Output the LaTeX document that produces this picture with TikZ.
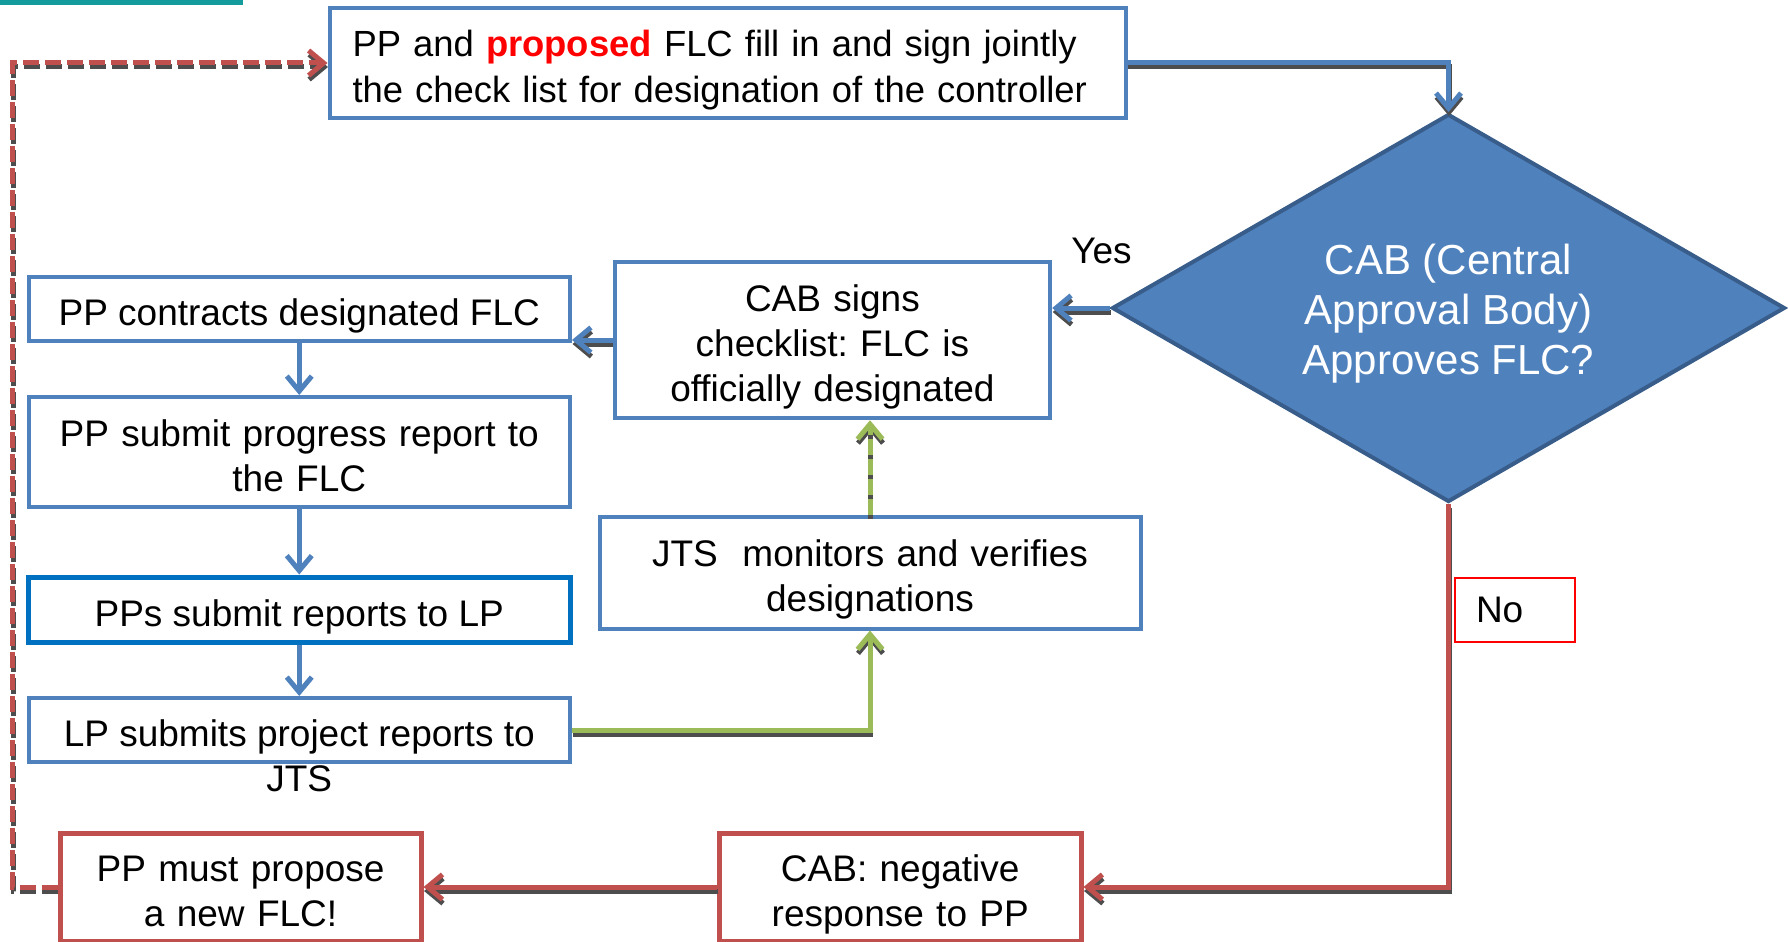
\documentclass[tikz,border=0pt]{standalone}
\usepackage{fontspec}
\setmainfont{Liberation Sans}
\frenchspacing
\usetikzlibrary{arrows.meta,shapes.geometric}
\definecolor{blueA}{HTML}{4F81BD}
\definecolor{blueD}{HTML}{385D8A}
\definecolor{blueP}{HTML}{0070C0}
\definecolor{redA}{HTML}{C0504D}
\definecolor{redT}{HTML}{FF0000}
\definecolor{greenA}{HTML}{9BBB59}
\definecolor{shadowC}{HTML}{4D4D4D}
\definecolor{tealA}{RGB}{20,155,155}
\newcommand\topstrutx{\rule{0pt}{41pt}}
\newcommand\botstrutx{\rule[-8pt]{0pt}{0pt}}
\tikzset{
  txt/.style={font=\fontsize{37}{45}\selectfont, align=center},
  strutted/.style={execute at begin node=\topstrutx, execute at end node=\botstrutx},
  bbox/.style={draw=blueA, line width=4pt, fill=white, inner sep=0pt, txt, strutted},
  pbox/.style={draw=blueP, line width=5pt, fill=white, inner sep=0pt, txt, strutted},
  rbox/.style={draw=redA, line width=5pt, fill=white, inner sep=0pt, txt, strutted},
  tipx/.style={-{Straight Barb[length=15pt,width=25pt]}},
  conn/.style={line width=5pt, tipx},
  shd/.style={conn, draw=shadowC, transform canvas={xshift=0.5pt,yshift=-4pt}},
  bluecon/.style={conn, draw=blueA},
  greencon/.style={conn, draw=greenA},
  greendash/.style={conn, draw=greenA, dash pattern=on 16pt off 4pt},
  redcon/.style={conn, draw=redA},
  reddash/.style={conn, draw=redA, dash pattern=on 16pt off 6pt},
}
\begin{document}
\frenchspacing
\begin{tikzpicture}[x=1pt,y=-1pt]
\useasboundingbox (0,0) rectangle (1788,942);
\fill[tealA] (0,0) rectangle (243,5);

% nodes
\node[bbox, font=\fontsize{36.4}{45}\selectfont, text width=750pt, inner xsep=23pt, minimum height=109.5pt, align=left] (top) at (727.5,63)
  {PP and \textcolor{redT}{\bfseries proposed} FLC fill in and sign jointly\\the check list for designation of the controller};
\node[diamond, draw=blueD, fill=blueA, line width=4pt, minimum width=673pt, minimum height=388pt, inner sep=0pt] (dec) at (1448.5,308) {};
\node[text=white, font=\fontsize{42}{50}\selectfont, align=center] (dect) at (1448.5,313.5) {CAB (Central\\Approval Body)\\Approves FLC?};
\node[txt] (yes) at (1101.5,251) {Yes};
\node[bbox, text width=420pt, minimum width=435.6pt, minimum height=156.5pt] (cab) at (832.4,340) {CAB signs\\checklist: FLC is\\officially designated};
\node[bbox, minimum width=541.5pt, minimum height=64pt] (ppc) at (299.25,309) {PP contracts designated FLC};
\node[bbox, text width=530pt, minimum width=541.5pt, minimum height=110pt] (pps) at (299.25,452) {PP submit progress report to\\the FLC};
\node[pbox, minimum width=541.5pt, minimum height=65pt] (ppr) at (299.25,609.5) {PPs submit reports to LP};
\node[bbox, minimum width=541.5pt, minimum height=64pt] (lps) at (299.25,730) {};
\node[txt] (lpst) at (299.25,755.5) {LP submits project reports to\\JTS};
\node[bbox, text width=530pt, minimum width=541pt, minimum height=112pt] (jts) at (870,572.5) {JTS\ \ monitors and verifies\\designations};
\node[draw=redT, line width=2pt, fill=white, txt, text width=78pt, inner xsep=21pt, inner ysep=0pt, minimum height=64pt, align=left] (no) at (1515,610) {\raisebox{-2pt}{No}};
\node[rbox, text width=350pt, minimum width=361.5pt, minimum height=108pt] (neg) at (900.25,887) {CAB: negative\\response to PP};
\node[rbox, text width=350pt, minimum width=361pt, minimum height=108pt] (ppm) at (240.6,887) {PP must propose\\a new FLC!};
\coordinate (lx) at (12.5,0);

% connector shadows
\draw[shd] (top.east) -| (dec.north);
\draw[shd] (dec.west) -- (dec.west -| cab.east);
\draw[shd] (cab.west) -- (cab.west -| ppc.east);
\draw[shd] (lps.east) -| (jts.south);
\draw[shd, dash pattern=on 16pt off 4pt] (jts.north) -- (jts.north |- cab.south);
\draw[shd] (dec.south) |- (neg.east);
\draw[shd] (neg.west) -- (ppm.east);
\draw[shd, dash pattern=on 16pt off 6pt] (ppm.west) -- (ppm.west -| lx) |- (top.west);

% connectors
\draw[bluecon] (top.east) -| (dec.north);
\draw[bluecon] (dec.west) -- (dec.west -| cab.east);
\draw[bluecon] (cab.west) -- (cab.west -| ppc.east);
\draw[bluecon] (ppc.south) -- (pps.north);
\draw[bluecon] (pps.south) -- (ppr.north);
\draw[bluecon] (ppr.south) -- (lps.north);
\draw[greencon] (lps.east) -| (jts.south);
\draw[greendash] (jts.north) -- (jts.north |- cab.south);
\draw[redcon] (dec.south) |- (neg.east);
\draw[redcon] (neg.west) -- (ppm.east);
\draw[reddash] (ppm.west) -- (ppm.west -| lx) |- (top.west);
\end{tikzpicture}
\end{document}
